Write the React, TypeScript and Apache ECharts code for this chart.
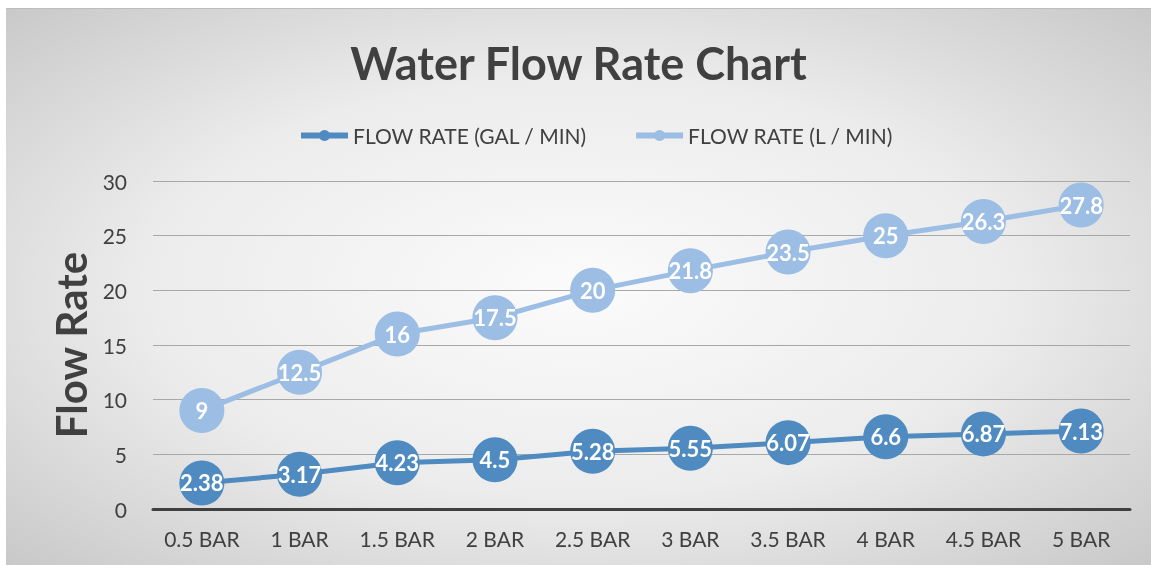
import React, { useEffect, useRef } from "react";
import * as echarts from "echarts";

const categories = ["0.5 BAR", "1 BAR", "1.5 BAR", "2 BAR", "2.5 BAR", "3 BAR", "3.5 BAR", "4 BAR", "4.5 BAR", "5 BAR"];
const galPerMin = [2.38, 3.17, 4.23, 4.5, 5.28, 5.55, 6.07, 6.6, 6.87, 7.13];
const litrePerMin = [9, 12.5, 16, 17.5, 20, 21.8, 23.5, 25, 26.3, 27.8];
const yTicks = [0, 5, 10, 15, 20, 25, 30];

const FONT = "Lato, 'Open Sans', sans-serif";
const TXT = "#404040";

export default function App() {
  const ref = useRef<HTMLDivElement>(null);
  useEffect(() => {
    if (!ref.current) return;
    const chart = echarts.init(ref.current, undefined, { renderer: "svg" });
    const mkSeries = (name: string, data: number[], color: string) => ({
      name,
      type: "line",
      data,
      symbol: "circle",
      symbolSize: 45,
      itemStyle: { color },
      lineStyle: { color, width: 5 },
      label: {
        show: true,
        position: "inside",
        color: "#ffffff",
        fontFamily: FONT,
        fontWeight: "bold",
        fontSize: 22,
      },
      z: 3,
    });
    chart.setOption({
      animation: false,
      backgroundColor: {
        type: "radial",
        x: 0.5,
        y: 0.5,
        r: 0.75,
        colorStops: [
          { offset: 0, color: "#fbfbfb" },
          { offset: 0.5, color: "#ececec" },
          { offset: 1, color: "#c4c4c4" },
        ],
      },
      title: {
        text: "Water Flow Rate Chart",
        left: "center",
        top: 27,
        textStyle: { fontFamily: FONT, fontWeight: "bold", fontSize: 45, color: TXT },
      },
      legend: {
        top: 112,
        left: 287,
        itemWidth: 47,
        itemHeight: 14,
        itemGap: 46,
        lineStyle: { width: 6 },
        textStyle: { fontFamily: FONT, fontSize: 21, color: TXT },
        data: ["FLOW RATE (GAL / MIN)", "FLOW RATE (L / MIN)"],
      },
      grid: { left: 147, right: 21, top: 173, bottom: 56, containLabel: false },
      xAxis: {
        type: "category",
        data: categories,
        boundaryGap: true,
        axisLine: { lineStyle: { color: "#404040", width: 3 } },
        axisTick: { show: false },
        axisLabel: { interval: 0, fontFamily: FONT, fontSize: 21, color: TXT, margin: 19 },
      },
      yAxis: {
        type: "value",
        min: yTicks[0],
        max: yTicks[yTicks.length - 1],
        interval: 5,
        name: "Flow Rate",
        nameLocation: "middle",
        nameGap: 46,
        nameTextStyle: { fontFamily: FONT, fontWeight: "bold", fontSize: 42, color: TXT },
        axisLine: { show: false },
        axisTick: { show: false },
        axisLabel: { fontFamily: FONT, fontSize: 21, color: TXT, margin: 26 },
        splitLine: { lineStyle: { color: "#a8a8a8", width: 1 } },
      },
      series: [
        mkSeries("FLOW RATE (GAL / MIN)", galPerMin, "#4f8bc0"),
        mkSeries("FLOW RATE (L / MIN)", litrePerMin, "#9cbde4"),
      ],
      graphic: [
        {
          type: "line",
          shape: { x1: 0, y1: 0.5, x2: 1145, y2: 0.5 },
          style: { stroke: "#bdbdbd", lineWidth: 1 },
        },
      ],
    });
    return () => chart.dispose();
  }, []);
  return (
    <div
      ref={ref}
      style={{ position: "fixed", left: 6, top: 8, width: 1145, height: 557 }}
    />
  );
}
